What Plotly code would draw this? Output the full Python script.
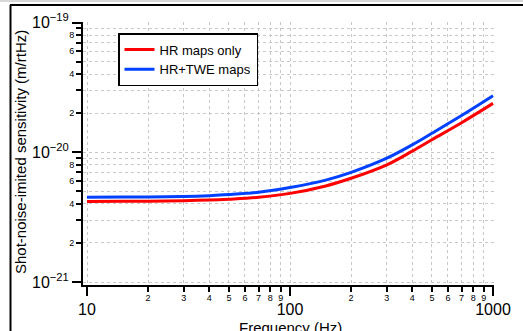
import plotly.graph_objects as go
import math

# ---- data ----
freq_hz = [10, 15, 20, 30, 40, 50, 70, 100, 150, 200, 300, 400, 500, 700, 1000]
hr_only = [4.18e-21, 4.19e-21, 4.2e-21, 4.23e-21, 4.28e-21, 4.35e-21, 4.5e-21, 4.82e-21,
           5.5e-21, 6.3e-21, 8.0e-21, 10.2e-21, 12.5e-21, 16.9e-21, 23.8e-21]
hr_twe = [4.5e-21, 4.51e-21, 4.52e-21, 4.56e-21, 4.63e-21, 4.72e-21, 4.92e-21, 5.35e-21,
          6.1e-21, 7.0e-21, 9.0e-21, 11.4e-21, 14.0e-21, 19.2e-21, 27.3e-21]

x_major = [10, 100, 1000]
x_major_text = ["10", "100", "1000"]
x_minor = [m * d for d in (10, 100) for m in range(2, 10)]
x_minor_text = [str(m) for d in (10, 100) for m in range(2, 10)]

y_major = [1e-21, 1e-20, 1e-19]
y_major_text = ["10<sup>−21</sup>", "10<sup>−20</sup>", "10<sup>−19</sup>"]
y_minor = [m * d for d in (1e-21, 1e-20) for m in range(2, 10)]
y_minor_text = [str(m) if m % 2 == 0 else " " for d in (1e-21, 1e-20) for m in range(2, 10)]

# ---- layout geometry ----
W, H = 523, 331
L, R, T, B = 83, 29, 22, 46
PW, PH = W - L - R, H - T - B
xdec, ydec = 203.0, 130.0
xr = [1 - 4 / xdec, 3 + 1 / xdec]
yr = [-21 - 3 / ydec, -19 + 0.5 / ydec]

FONT = "Liberation Sans, Arial, sans-serif"
grid = dict(showgrid=True, gridcolor="#c8c8c8", griddash="dot", gridwidth=1)

fig = go.Figure()
fig.add_trace(go.Scatter(x=freq_hz, y=hr_only, mode="lines", name="HR maps only",
                         line=dict(color="#ff0000", width=3, shape="spline")))
fig.add_trace(go.Scatter(x=freq_hz, y=hr_twe, mode="lines", name="HR+TWE maps",
                         line=dict(color="#0040ff", width=3, shape="spline")))
# invisible trace to activate overlay axes
fig.add_trace(go.Scatter(x=[10], y=[1e-20], xaxis="x2", yaxis="y2", mode="markers",
                         marker=dict(opacity=0), showlegend=False, hoverinfo="skip"))

def px(xp):
    return (xp - L) / PW

def py(yp):
    return 1 - (yp - T) / PH

fig.update_layout(
    width=W, height=H, margin=dict(l=L, r=R, t=T, b=B),
    paper_bgcolor="white", plot_bgcolor="white",
    font=dict(family=FONT, color="black"),
    showlegend=True,
    legend=dict(x=px(118), y=py(33), xanchor="left", yanchor="top",
                bordercolor="black", borderwidth=1.5, bgcolor="white",
                font=dict(size=13, family=FONT), tracegroupgap=0, itemwidth=30),
    xaxis=dict(type="log", range=xr, tickmode="array", tickvals=x_minor, ticktext=x_minor_text,
               ticks="outside", ticklen=5, tickwidth=1.5, tickcolor="black",
               tickfont=dict(size=9), ticklabelstandoff=-2, showline=True,
               linecolor="black", linewidth=2, zeroline=False, **grid),
    xaxis2=dict(type="log", range=xr, overlaying="x", anchor="y", side="bottom",
                tickmode="array", tickvals=x_major, ticktext=x_major_text,
                ticks="outside", ticklen=10, tickwidth=2, tickcolor="black",
                tickfont=dict(size=16), ticklabelstandoff=0, showline=False,
                zeroline=False, **grid),
    yaxis=dict(type="log", range=yr, tickmode="array", tickvals=y_minor, ticktext=y_minor_text,
               ticks="outside", ticklen=5, tickwidth=1.5, tickcolor="black",
               tickfont=dict(size=9), showline=True, linecolor="black", linewidth=2,
               zeroline=False, **grid),
    yaxis2=dict(type="log", range=yr, overlaying="y", anchor="x", side="left",
                tickmode="array", tickvals=y_major, ticktext=y_major_text,
                ticks="outside", ticklen=10, tickwidth=2, tickcolor="black",
                tickfont=dict(size=16), ticklabelstandoff=0, showline=False,
                zeroline=False, **grid),
)

fig.add_annotation(text="Frequency (Hz)", xref="paper", yref="paper", x=px(290), y=py(327),
                   showarrow=False, font=dict(size=15, family=FONT), xanchor="center",
                   yanchor="middle")
fig.add_annotation(text="Shot-noise-imited sensitivity (m/rtHz)", xref="paper", yref="paper",
                   x=px(20), y=py(152), textangle=-90, showarrow=False,
                   font=dict(size=15, family=FONT), xanchor="center", yanchor="middle")

# outer frame
fig.add_shape(type="line", xref="paper", yref="paper", x0=px(0), x1=px(W), y0=py(1), y1=py(1),
              line=dict(color="#b0b0b0", width=1))
fig.add_shape(type="line", xref="paper", yref="paper", x0=px(10), x1=px(W), y0=py(5), y1=py(5),
              line=dict(color="black", width=2))
fig.add_shape(type="line", xref="paper", yref="paper", x0=px(10.5), x1=px(10.5), y0=py(5), y1=py(H),
              line=dict(color="black", width=2))

fig.write_html("out.html")
